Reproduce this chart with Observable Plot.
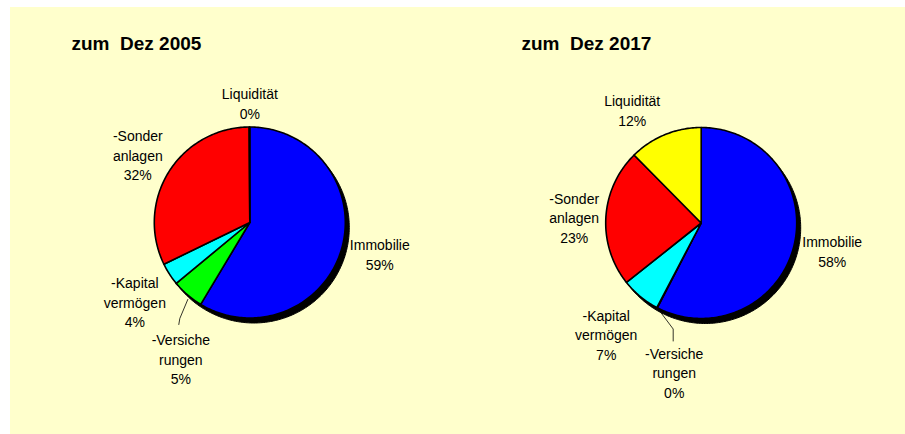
<!DOCTYPE html>
<html>
<head>
<meta charset="utf-8">
<script src="https://cdn.jsdelivr.net/npm/d3@7"></script>
<script src="https://cdn.jsdelivr.net/npm/@observablehq/plot@0.6"></script>
<style>
  html, body { margin: 0; padding: 0; background: #ffffff; }
  #page { position: relative; width: 905px; height: 434px; overflow: hidden; }
  #bg { position: absolute; left: 10px; top: 7px; width: 895px; height: 427px; background: #FFFFCC; }
  .pie { position: absolute; top: 0; }
</style>
</head>
<body>
<div id="page"><div id="bg"></div></div>
<script>
// ---- data ----
const categories = ["Immobilie", "-Versicherungen", "-Kapitalvermögen", "-Sonderanlagen", "Liquidität"];
const categoryLabels = ["Immobilie", "-Versiche\nrungen", "-Kapital\nvermögen", "-Sonder\nanlagen", "Liquidität"];
const sliceColors = ["#0000FF", "#00FF00", "#00FFFF", "#FF0000", "#FFFF00"];
const titles = ["zum  Dez 2005", "zum  Dez 2017"];
const values2005 = [58.6, 5.4, 3.8, 32.1, 0.1];
const values2017 = [57.6, 0.1, 6.6, 23.3, 12.4];

// ---- layout (pixels relative to pie centre) ----
const R = 95.5;
const layout = [
  {left: 0,   cx: 249.3, cy: 222, titleDx: 71,
   labels: [[130, 31.5], [-69, 136], [-115, 79], [-112, -68], [0, -120]],
   leader: [[-62, 77], [-70, 96], [-71, 102]]},
  {left: 452, cx: 248.7, cy: 222.5, titleDx: 69,
   labels: [[131, 28], [-27, 149], [-95, 111], [-127, -6], [-69, -113]],
   leader: [[-43, 86], [-28, 106], [-28, 118]]}
];

function slicePolygons(values) {
  const total = d3.sum(values);
  const rows = [];
  let acc = 0;
  values.forEach((v, i) => {
    const a0 = acc / total * 2 * Math.PI;
    acc += v;
    const a1 = acc / total * 2 * Math.PI;
    const n = Math.max(2, Math.ceil((a1 - a0) / (Math.PI / 180)));
    rows.push({cat: categories[i], color: sliceColors[i], x: 0, y: 0});
    for (let k = 0; k <= n; k++) {
      const a = a0 + (a1 - a0) * k / n;
      rows.push({cat: categories[i], color: sliceColors[i], x: Math.sin(a), y: -Math.cos(a)});
    }
    rows.push({cat: categories[i], color: sliceColors[i], x: 0, y: 0});
  });
  return rows;
}
function circle() {
  const pts = [];
  for (let k = 0; k <= 360; k++) {
    const a = k * Math.PI / 180;
    pts.push({x: Math.sin(a), y: -Math.cos(a)});
  }
  return pts;
}

function pie(values, title, L) {
  const W = 452, H = 434;
  const total = d3.sum(values);
  const labelRows = values.map((v, i) => ({
    text: categoryLabels[i] + "\n" + Math.round(v / total * 100) + "%",
    x: L.labels[i][0] / R,
    y: L.labels[i][1] / R
  }));
  const leader = L.leader.map(([x, y]) => ({x: x / R, y: y / R}));
  return Plot.plot({
    width: W, height: H,
    margin: 0,
    style: {background: "none", overflow: "visible"},
    x: {domain: [-L.cx / R, (W - L.cx) / R], axis: null},
    y: {domain: [(H - L.cy) / R, -L.cy / R], axis: null},
    color: {type: "identity"},
    marks: [
      Plot.line(circle(), {x: "x", y: "y", fill: "black", stroke: "black", strokeWidth: 1, dx: 4, dy: 5}),
      Plot.line(slicePolygons(values), {x: "x", y: "y", z: "cat", fill: "color", stroke: "black", strokeWidth: 1.6, strokeLinejoin: "round"}),
      Plot.line(leader, {x: "x", y: "y", stroke: "black", strokeWidth: 0.8}),
      Plot.text(labelRows, {x: "x", y: "y", text: "text", fontSize: 14, lineHeight: 1.4,
        fontFamily: "'Liberation Sans', Arial, sans-serif", fill: "#000", textAnchor: "middle"}),
      Plot.text([title], {frameAnchor: "top-left", dx: L.titleDx, dy: 43, text: d => d.replace(/ /g, "\u00A0"), textAnchor: "start",
        lineAnchor: "middle", fontSize: 19, fontWeight: "bold",
        fontFamily: "'Liberation Sans', Arial, sans-serif", fill: "#000"})
    ]
  });
}

const page = document.getElementById("page");
[values2005, values2017].forEach((vals, i) => {
  const svg = pie(vals, titles[i], layout[i]);
  svg.classList.add("pie");
  svg.style.left = layout[i].left + "px";
  page.appendChild(svg);
});
</script>
</body>
</html>
